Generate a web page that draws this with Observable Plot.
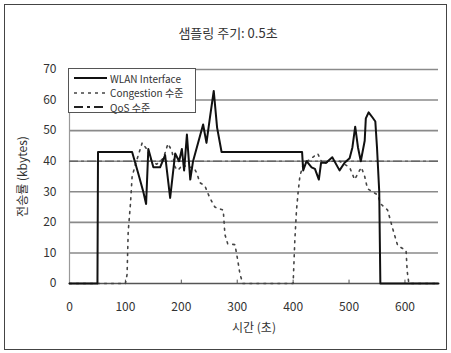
<!DOCTYPE html>
<html>
<head>
<meta charset="utf-8">
<script src="https://cdn.jsdelivr.net/npm/d3@7"></script>
<script src="https://cdn.jsdelivr.net/npm/@observablehq/plot@0.6"></script>
<style>
  html, body { margin: 0; padding: 0; background: #fff; }
  #wrap { position: relative; width: 451px; height: 353px; overflow: hidden; }
  #border { position: absolute; left: 4px; top: 4px; width: 441px; height: 344px; border: 1.5px solid #444; box-sizing: content-box; pointer-events: none; }
  #legend { position: absolute; left: 68px; top: 68px; width: 128px; height: 45px; background: #fff; border: 1.2px solid #555; box-sizing: border-box; font-family: 'Noto Sans CJK KR', 'Noto Sans', sans-serif; font-size: 10px; color: #333; }
  #legend .row { position: absolute; left: 0; height: 14px; display: flex; align-items: center; }
  #legend svg { margin-left: 5px; margin-right: 3px; }
</style>
</head>
<body>
<div id="wrap"></div>
<script>
// ---- data ----
const title = "샘플링 주기: 0.5초";
const xLabel = "시간 (초)";
const yLabel = "전송률 (kbytes)";
const seriesNames = ["WLAN Interface", "Congestion 수준", "QoS 수준"];
const xTicks = [0, 100, 200, 300, 400, 500, 600];
const yTicks = [0, 10, 20, 30, 40, 50, 60, 70];

const wlanTime = [0, 50, 51, 112, 123, 132, 137, 141, 150, 162, 171, 180, 189, 196, 201, 205, 210, 216, 221, 233, 239, 245, 251, 258, 264, 272, 416, 418, 424, 433, 439, 446, 450, 459, 470, 483, 492, 501, 506, 511, 516, 521, 528, 530, 535, 542, 547, 550, 554, 556, 660];
const wlanValue = [0, 0, 43, 43, 36, 30, 26, 44, 38, 38, 42, 28, 42.5, 40, 44, 37, 48.7, 34, 40, 48, 52, 46, 54, 63, 51, 43, 43, 37, 40, 38, 37.5, 34, 39.5, 39.5, 41.3, 37, 39.5, 41, 44.5, 51.3, 44.5, 40, 46.7, 54, 56, 54.3, 53, 44.5, 30, 0, 0];

const congTime = [0, 100, 103, 105, 109, 112, 118, 130, 138, 147, 156, 168, 176, 183, 189, 194, 203, 210, 222, 228, 233, 242, 251, 260, 275, 278, 283, 296, 301, 305, 310, 400, 403, 406, 409, 412, 418, 444, 453, 465, 483, 501, 510, 522, 528, 533, 542, 551, 557, 569, 578, 587, 602, 604, 607, 660];
const congValue = [0, 0, 3, 17, 26, 35, 39, 46, 44, 40, 39, 41, 45.7, 43.5, 38, 37, 39, 38, 38, 36, 33, 32, 28, 25, 24, 16, 13, 12.7, 7.5, 3, 0, 0, 14, 24, 30, 35, 39, 42.5, 39, 40, 40, 38, 34, 38, 35, 31, 30, 29, 26, 24, 18, 12.4, 10.8, 4, 0, 0];

const qosLevel = 40;
const xDomain = [0, 660];
const yDomain = [0, 70];

// ---- build tables ----
const wlan = wlanTime.map((t, i) => ({t, v: wlanValue[i]}));
const cong = congTime.map((t, i) => ({t, v: congValue[i]}));

const font = "'Noto Sans CJK KR', 'Noto Sans', sans-serif";

const chart = Plot.plot({
  width: 451,
  height: 353,
  marginTop: 69,
  marginBottom: 70,
  marginLeft: 69,
  marginRight: 13,
  style: {fontFamily: font, fontSize: "12px", color: "#333", background: "transparent"},
  x: {domain: xDomain, ticks: xTicks},
  y: {domain: yDomain, ticks: yTicks},
  marks: [
    Plot.gridY(yTicks.filter(d => d > 0), {stroke: "#8a8a8a", strokeOpacity: 1, strokeWidth: 1.6}),
    Plot.ruleX([xDomain[0]], {stroke: "#999", strokeWidth: 1.2}),
    Plot.axisX({ticks: xTicks, tickSize: 0, tickPadding: 19, fontSize: 12, fill: "#333",
      label: xLabel, labelAnchor: "center", labelArrow: "none", labelOffset: 48}),
    Plot.axisY({ticks: yTicks, tickSize: 0, tickPadding: 13, fontSize: 12, fill: "#333",
      label: yLabel, labelAnchor: "center", labelArrow: "none", labelOffset: 51}),
    Plot.ruleY([0], {stroke: "#555", strokeWidth: 1.6}),
    Plot.ruleX(xTicks.filter(d => d > 0), {y1: 0, y2: 1.1, stroke: "#555", strokeWidth: 1}),
    Plot.ruleY([qosLevel], {stroke: "#666", strokeWidth: 1.4, strokeDasharray: "9,3,3,3"}),
    Plot.line(cong, {x: "t", y: "v", stroke: "#444", strokeWidth: 1.6, strokeDasharray: "2,5"}),
    Plot.line(wlan, {x: "t", y: "v", stroke: "#111", strokeWidth: 2}),
    Plot.text([title], {frameAnchor: "top", dx: -26, dy: -41, fontSize: 13, fill: "#333"})
  ]
});

const wrap = document.getElementById("wrap");
wrap.appendChild(chart);
chart.style.position = "absolute";
chart.style.left = "0px";
chart.style.top = "0px";

const border = document.createElement("div");
border.id = "border";
wrap.appendChild(border);

// legend
const legend = document.createElement("div");
legend.id = "legend";
const styles = [
  {dash: null, stroke: "#111", w: 2},
  {dash: "3,4", stroke: "#444", w: 1.6},
  {dash: "9,4,3,4", stroke: "#222", w: 2}
];
seriesNames.forEach((name, i) => {
  const row = document.createElement("div");
  row.className = "row";
  row.style.top = (2 + i * 14.5) + "px";
  const s = styles[i];
  row.innerHTML = `<svg width="33" height="6"><line x1="0" x2="33" y1="3" y2="3" stroke="${s.stroke}" stroke-width="${s.w}" ${s.dash ? `stroke-dasharray="${s.dash}"` : ""}/></svg><span>${name}</span>`;
  legend.appendChild(row);
});
wrap.appendChild(legend);
</script>
</body>
</html>
